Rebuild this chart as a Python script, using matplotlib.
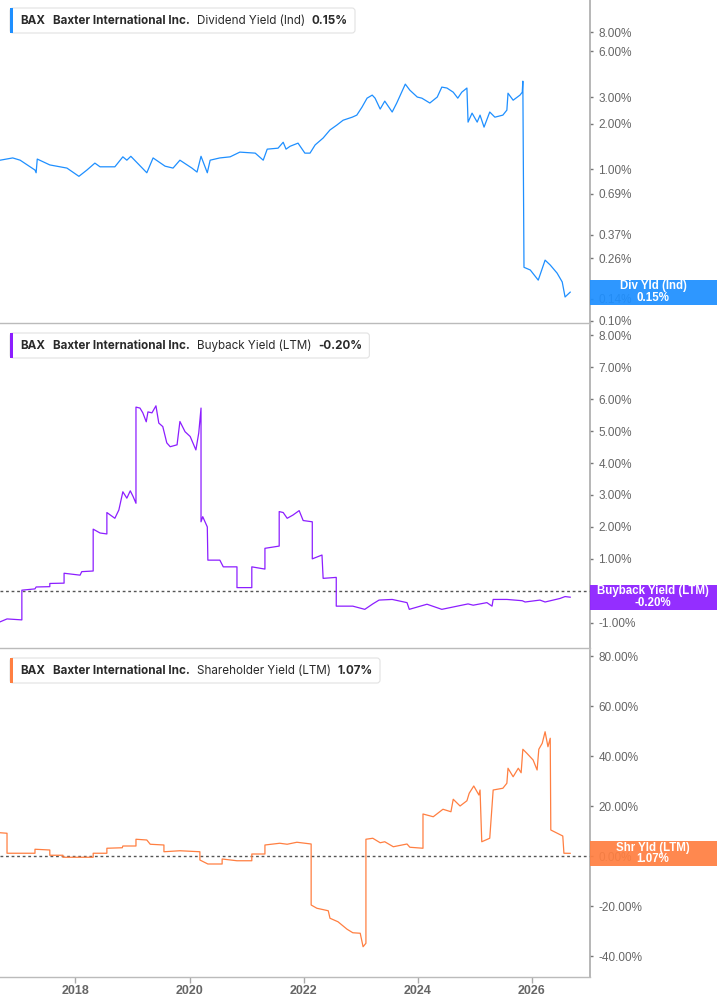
import matplotlib
matplotlib.use("Agg")
import matplotlib.pyplot as plt
from matplotlib.patches import FancyBboxPatch, Rectangle
from matplotlib.ticker import NullLocator
from matplotlib.transforms import IdentityTransform

# ---------------- data (decimal years, % values) ----------------
div_years = [2016.68, 2016.90, 2017.03, 2017.29, 2017.31, 2017.33, 2017.55, 2017.85, 2018.06, 2018.20,
             2018.34, 2018.43, 2018.69, 2018.83, 2018.90, 2018.97, 2019.25, 2019.36, 2019.57, 2019.71,
             2019.83, 2020.04, 2020.13, 2020.20, 2020.31, 2020.36, 2020.53, 2020.71, 2020.88, 2021.15,
             2021.29, 2021.36, 2021.55, 2021.64, 2021.69, 2021.76, 2021.90, 2022.02, 2022.11, 2022.20,
             2022.34, 2022.46, 2022.58, 2022.69, 2022.85, 2022.93, 2023.02, 2023.11, 2023.20, 2023.25,
             2023.34, 2023.42, 2023.55, 2023.63, 2023.78, 2023.86, 2023.99, 2024.07, 2024.21, 2024.34,
             2024.42, 2024.51, 2024.62, 2024.70, 2024.77, 2024.86, 2024.88, 2024.95, 2025.04, 2025.09,
             2025.16, 2025.26, 2025.35, 2025.49, 2025.56, 2025.58, 2025.67, 2025.79, 2025.83, 2025.84,
             2025.86, 2025.97, 2026.11, 2026.23, 2026.32, 2026.44, 2026.53, 2026.58, 2026.67]
div_yield = [1.15, 1.19, 1.15, 0.99, 0.95, 1.17, 1.07, 1.02, 0.90, 0.99,
             1.10, 1.04, 1.04, 1.21, 1.15, 1.22, 0.95, 1.19, 1.05, 1.02,
             1.15, 1.02, 0.96, 1.22, 0.95, 1.15, 1.19, 1.21, 1.30, 1.28,
             1.15, 1.36, 1.38, 1.51, 1.36, 1.42, 1.49, 1.28, 1.28, 1.45,
             1.61, 1.82, 1.96, 2.11, 2.21, 2.28, 2.57, 2.95, 3.09, 2.95,
             2.50, 2.82, 2.39, 2.74, 3.65, 3.33, 3.00, 2.95, 2.74, 3.00,
             3.49, 3.44, 3.23, 2.95, 3.23, 3.44, 2.05, 2.35, 2.05, 2.28,
             1.90, 2.39, 2.21, 2.28, 2.46, 3.18, 2.86, 3.09, 3.23, 3.82,
             0.226, 0.217, 0.186, 0.252, 0.234, 0.207, 0.181, 0.144, 0.155]

bb_years = [2016.68, 2016.80, 2017.06, 2017.06, 2017.29, 2017.31, 2017.55, 2017.55, 2017.80, 2017.80,
            2018.08, 2018.11, 2018.31, 2018.31, 2018.43, 2018.55, 2018.55, 2018.69, 2018.76, 2018.83,
            2018.90, 2018.96, 2019.01, 2019.06, 2019.06, 2019.13, 2019.18, 2019.24, 2019.27, 2019.34,
            2019.41, 2019.46, 2019.53, 2019.60, 2019.66, 2019.78, 2019.83, 2019.92, 2020.01, 2020.11,
            2020.16, 2020.20, 2020.20, 2020.23, 2020.31, 2020.32, 2020.53, 2020.59, 2020.83, 2020.83,
            2021.09, 2021.09, 2021.32, 2021.32, 2021.57, 2021.57, 2021.64, 2021.71, 2021.81, 2021.92,
            2021.99, 2022.15, 2022.15, 2022.32, 2022.34, 2022.57, 2022.57, 2022.86, 2023.07, 2023.21,
            2023.32, 2023.55, 2023.81, 2023.85, 2024.16, 2024.42, 2024.69, 2024.88, 2024.97, 2025.21,
            2025.30, 2025.32, 2025.56, 2025.83, 2025.88, 2026.14, 2026.23, 2026.49, 2026.58, 2026.67]
bb_yield = [-0.97, -0.88, -0.91, 0.02, 0.06, 0.12, 0.13, 0.23, 0.24, 0.55,
            0.49, 0.60, 0.62, 1.93, 1.81, 1.78, 2.45, 2.27, 2.53, 3.10,
            2.90, 3.13, 2.95, 2.74, 5.75, 5.72, 5.57, 5.29, 5.60, 5.57,
            5.79, 5.25, 5.14, 4.63, 4.51, 4.57, 5.30, 4.98, 4.83, 4.41,
            4.94, 5.72, 2.16, 2.32, 2.00, 0.96, 0.96, 0.75, 0.75, 0.10,
            0.10, 0.75, 0.68, 1.33, 1.40, 2.48, 2.45, 2.27, 2.37, 2.51,
            2.20, 2.16, 1.00, 1.12, 0.39, 0.42, -0.48, -0.48, -0.58, -0.41,
            -0.29, -0.27, -0.37, -0.58, -0.42, -0.58, -0.48, -0.41, -0.45, -0.37,
            -0.48, -0.27, -0.27, -0.31, -0.35, -0.29, -0.35, -0.24, -0.18, -0.20]

sh_years = [2016.68, 2016.80, 2016.80, 2017.29, 2017.29, 2017.55, 2017.55, 2017.78, 2017.78, 2018.31,
            2018.31, 2018.55, 2018.55, 2018.82, 2018.83, 2019.06, 2019.06, 2019.25, 2019.31, 2019.55,
            2019.55, 2019.83, 2020.18, 2020.18, 2020.32, 2020.57, 2020.57, 2020.83, 2021.09, 2021.09,
            2021.32, 2021.32, 2021.58, 2021.71, 2021.88, 2022.13, 2022.13, 2022.23, 2022.43, 2022.46,
            2022.60, 2022.76, 2022.86, 2022.99, 2023.04, 2023.09, 2023.09, 2023.21, 2023.34, 2023.42,
            2023.57, 2023.81, 2023.86, 2024.09, 2024.09, 2024.27, 2024.44, 2024.58, 2024.62, 2024.74,
            2024.86, 2024.90, 2024.98, 2025.07, 2025.09, 2025.12, 2025.26, 2025.32, 2025.49, 2025.56,
            2025.58, 2025.67, 2025.76, 2025.81, 2025.84, 2025.91, 2026.02, 2026.09, 2026.12, 2026.18,
            2026.23, 2026.28, 2026.32, 2026.33, 2026.54, 2026.56, 2026.67]
sh_yield = [9.3, 9.1, 1.1, 1.1, 2.7, 2.4, 0.3, 0.3, -0.5, -0.5,
            1.1, 1.1, 3.1, 3.3, 4.0, 4.0, 6.7, 6.4, 4.7, 4.4,
            1.7, 2.1, 1.7, -1.6, -3.2, -3.2, -1.2, -1.9, -1.9, 0.8,
            0.8, 4.4, 5.1, 4.7, 5.5, 4.8, -19.6, -20.9, -21.9, -24.9,
            -26.3, -29.3, -30.7, -30.9, -36.3, -34.9, 6.7, 7.1, 5.3, 5.7,
            3.7, 4.8, 3.5, 3.1, 16.8, 15.7, 18.7, 17.7, 22.7, 20.0,
            22.1, 25.1, 28.0, 24.4, 26.4, 5.7, 7.1, 26.4, 27.1, 29.1,
            35.1, 31.7, 35.1, 33.3, 42.7, 41.1, 38.4, 34.4, 42.7, 45.1,
            49.7, 43.7, 47.1, 10.4, 8.0, 1.1, 1.07]

x_ticks = [2018, 2020, 2022, 2024, 2026]
x_tick_labels = ["2018", "2020", "2022", "2024", "2026"]
div_ticks = [8.0, 6.0, 3.0, 2.0, 1.0, 0.69, 0.37, 0.26, 0.14, 0.10]
bb_ticks = [8, 7, 6, 5, 4, 3, 2, 1, -1]
sh_ticks = [80, 60, 40, 20, 0, -20, -40]

company = "Baxter International Inc."
ticker = "BAX"
metric_names = ["Dividend Yield (Ind)", "Buyback Yield (LTM)", "Shareholder Yield (LTM)"]
last_labels = ["0.15%", "-0.20%", "1.07%"]
side_names = ["Div Yld (Ind)", "Buyback Yield (LTM)", "Shr Yld (LTM)"]

# ---------------- styling ----------------
BLUE = "#1e8fff"
PURPLE = "#8c1eff"
ORANGE = "#ff7f41"
W, H = 717, 1005
XMIN, XMAX = 2016.677, 2027.017
TICK_FONT = "Liberation Sans"
LEG_FONT = ["Inter", "DejaVu Sans"]

fig = plt.figure(figsize=(W / 100, H / 100), dpi=100)


def fy(py):
    return 1 - py / H


ax1 = fig.add_axes([0, fy(323), 590 / W, 323 / H])
ax2 = fig.add_axes([0, fy(648), 590 / W, (648 - 325) / H])
ax3 = fig.add_axes([0, fy(977), 590 / W, (977 - 650) / H])
axes = [ax1, ax2, ax3]

ax1.plot(div_years, div_yield, color=BLUE, lw=0.9)
ax2.plot(bb_years, bb_yield, color=PURPLE, lw=0.9)
ax3.plot(sh_years, sh_yield, color=ORANGE, lw=0.9)

ax1.set_yscale("log")
ax1.set_ylim(0.097, 13.1)
ax1.yaxis.set_minor_locator(NullLocator())
ax1.set_yticks(div_ticks, [f"{v:.2f}%" for v in div_ticks])

ax2.set_ylim(-1.79, 8.32)
ax2.set_yticks(bb_ticks, [f"{v:.2f}%" for v in bb_ticks])
ax2.axhline(0, color="#555555", lw=1, ls=(0, (2, 2)), zorder=1)

ax3.set_ylim(-48.4, 82.4)
ax3.set_yticks(sh_ticks, [f"{v:.2f}%" for v in sh_ticks])
ax3.axhline(0, color="#555555", lw=1, ls=(0, (2, 2)), zorder=1)

for ax in axes:
    ax.set_xlim(XMIN, XMAX)
    ax.spines["left"].set_visible(False)
    ax.spines["top"].set_visible(False)
    ax.spines["right"].set_color("#aaaaaa")
    ax.spines["bottom"].set_color("#bbbbbb")
    ax.spines["right"].set_linewidth(1.2)
    ax.spines["bottom"].set_linewidth(1.0)
    ax.yaxis.tick_right()
    ax.tick_params(axis="y", which="both", direction="out", length=2.5, width=1,
                   color="#777777", labelcolor="#666666", labelsize=8.5, pad=3.5)
    for lab in ax.get_yticklabels():
        lab.set_fontfamily(TICK_FONT)
    ax.set_xticks(x_ticks)
    ax.set_facecolor("none")

for ax in (ax1, ax2):
    ax.tick_params(axis="x", bottom=False, labelbottom=False)

ax3.set_xticklabels(x_tick_labels)
ax3.tick_params(axis="x", direction="out", length=4, width=1, color="#aaaaaa",
                labelcolor="#666666", labelsize=9, pad=2)
for lab in ax3.get_xticklabels():
    lab.set_fontfamily(TICK_FONT)
    lab.set_fontweight("bold")

# ---------------- right value labels ----------------
colors = [BLUE, PURPLE, ORANGE]
last_vals = [div_yield[-1], bb_yield[-1], sh_yield[-1]]
for ax, val, col, name, lab in zip(axes, last_vals, colors, side_names, last_labels):
    ydisp = ax.transData.transform((XMAX, val))[1]
    rect = Rectangle((590, ydisp - 12.5), W - 590, 25, transform=IdentityTransform(),
                     facecolor=col, edgecolor="none", alpha=0.93, zorder=5)
    fig.add_artist(rect)
    fig.text(653, ydisp, f"{name}\n{lab}", transform=IdentityTransform(), ha="center",
             va="center", color="white", fontsize=8.3, fontweight="bold",
             fontfamily=TICK_FONT, linespacing=0.95, zorder=6)

# ---------------- legends ----------------
renderer = fig.canvas.get_renderer()
legend_tops = [8, 333, 658]
for top, col, metric, lab in zip(legend_tops, colors, metric_names, last_labels):
    parts = [(ticker, "bold", 8), (company, "bold", 7), (metric, "normal", 7), (lab, "bold", 7)]
    x = 20
    yc = H - (top + 12.5)
    for s, w, gap in parts:
        t = fig.text(x, yc, s, transform=IdentityTransform(), ha="left", va="center",
                     fontsize=8.4, fontweight=w, color="#2a2a2a", family=LEG_FONT, zorder=8)
        bb = t.get_window_extent(renderer=renderer)
        x = bb.x1 + gap
    x_end = x
    box = FancyBboxPatch((10, H - top - 25), x_end - 10, 25,
                         boxstyle="round,pad=0,rounding_size=3",
                         transform=IdentityTransform(), facecolor="white",
                         edgecolor="#e2e2e2", lw=0.8, zorder=7)
    fig.add_artist(box)
    bar = Rectangle((10, H - top - 25), 3, 25, transform=IdentityTransform(),
                    facecolor=col, edgecolor="none", zorder=7.5)
    fig.add_artist(bar)

fig.savefig("out.png", dpi=100)
